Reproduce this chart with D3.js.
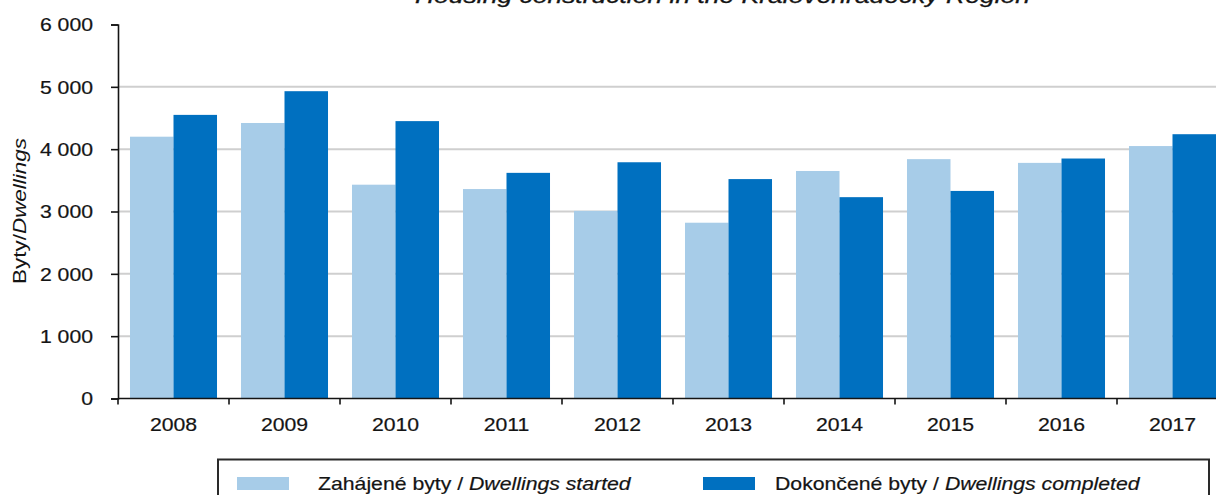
<!DOCTYPE html>
<html>
<head>
<meta charset="utf-8">
<script src="https://cdn.jsdelivr.net/npm/d3@7"></script>
<style>
  html, body { margin: 0; padding: 0; background: #fff; overflow: hidden; }
  svg { display: block; font-family: "Liberation Sans", Arial, sans-serif; }
</style>
</head>
<body>
<svg id="chart" width="1216" height="495"></svg>
<script>
// Housing construction, Královéhradecký Region
const years = ["2008", "2009", "2010", "2011", "2012", "2013", "2014", "2015", "2016", "2017"];
const started = [4200, 4420, 3430, 3360, 3010, 2820, 3650, 3840, 3780, 4050];
const completed = [4550, 4930, 4450, 3620, 3790, 3520, 3230, 3330, 3850, 4240];
const seriesKeys = ["started", "completed"];
const seriesLabels = [
  ["Zahájené byty / ", "Dwellings started"],
  ["Dokončené byty / ", "Dwellings completed"]
];
const yTicks = [0, 1000, 2000, 3000, 4000, 5000, 6000];

const colors = { started: "#a7cce8", completed: "#0070c0" };
const ink = "#141414";
const stretch = 1.18;

const rows = years.map((y, i) => ({ year: y, started: started[i], completed: completed[i] }));

const svg = d3.select("#chart");

const x0 = d3.scaleBand().domain(years).range([118, 1228]).paddingInner(0.216).paddingOuter(0.108);
const x1 = d3.scaleBand().domain(seriesKeys).range([0, x0.bandwidth()]);
const y = d3.scaleLinear().domain([0, 6000]).range([398.5, 24.5]);

const fmt = d3.formatLocale({ decimal: ",", thousands: "\u00a0", grouping: [3], currency: ["", ""] }).format(",d");

// horizontal gridlines
svg.append("g").selectAll("line")
  .data(yTicks.filter(t => t > 0 && t < 6000))
  .join("line")
  .attr("x1", 118).attr("x2", 1216)
  .attr("y1", d => y(d)).attr("y2", d => y(d))
  .attr("stroke", "#cfcfcf").attr("stroke-width", 2);

// bars
const groups = svg.append("g").selectAll("g")
  .data(rows)
  .join("g")
  .attr("transform", d => `translate(${x0(d.year)},0)`);

groups.selectAll("rect")
  .data(d => seriesKeys.map(k => ({ key: k, value: d[k] })))
  .join("rect")
  .attr("x", d => x1(d.key))
  .attr("width", x1.bandwidth())
  .attr("y", d => y(d.value))
  .attr("height", d => y(0) - y(d.value))
  .attr("fill", d => colors[d.key]);

// y axis
const yAxis = svg.append("g")
  .attr("transform", "translate(118,0)")
  .call(d3.axisLeft(y).tickValues(yTicks).tickSize(7).tickPadding(18).tickFormat(fmt));
yAxis.select(".domain").attr("stroke", ink).attr("stroke-width", 1.6);
yAxis.selectAll(".tick line").attr("stroke", ink).attr("stroke-width", 1.6);
yAxis.selectAll(".tick text")
  .attr("fill", ink).attr("font-size", 18)
  .attr("stroke", ink).attr("stroke-width", 0.2)
  .attr("font-family", "Liberation Sans, Arial, sans-serif")
  .each(function () {
    const t = d3.select(this);
    const xPos = +t.attr("x");
    t.attr("x", null).attr("dy", "0.35em")
      .attr("transform", `translate(${xPos},0) scale(${stretch},1)`);
  });

// x axis with ticks at category boundaries
svg.append("line")
  .attr("x1", 118).attr("x2", 1216)
  .attr("y1", y(0)).attr("y2", y(0))
  .attr("stroke", ink).attr("stroke-width", 1.6);

const boundaries = years.map(yr => x0(yr) - x0.step() * x0.paddingOuter());
svg.append("g").selectAll("line")
  .data(boundaries)
  .join("line")
  .attr("x1", d => d).attr("x2", d => d)
  .attr("y1", y(0)).attr("y2", y(0) + 6)
  .attr("stroke", ink).attr("stroke-width", 1.6);

svg.append("g").selectAll("text")
  .data(years)
  .join("text")
  .attr("transform", d => `translate(${x0(d) + x0.bandwidth() / 2},431) scale(${stretch},1)`)
  .attr("text-anchor", "middle")
  .attr("font-size", 18)
  .attr("fill", ink)
  .attr("stroke", ink).attr("stroke-width", 0.2)
  .text(d => d);

// y axis title
const yTitle = svg.append("text")
  .attr("transform", "translate(26,211) rotate(-90)")
  .attr("text-anchor", "middle")
  .attr("font-size", 18)
  .attr("textLength", 146).attr("lengthAdjust", "spacingAndGlyphs")
  .attr("fill", ink);
yTitle.append("tspan").text("Byty/");
yTitle.append("tspan").attr("font-style", "italic").text("Dwellings");

// chart title (second line of the heading; the first sits above the frame)
svg.append("text")
  .attr("x", 415).attr("y", 2.5)
  .attr("textLength", 615).attr("lengthAdjust", "spacingAndGlyphs")
  .attr("font-size", 21)
  .attr("font-style", "italic")
  .attr("fill", ink)
  .attr("stroke", ink).attr("stroke-width", 0.3)
  .text("Housing construction in the Královéhradecký Region");

// legend
svg.append("rect")
  .attr("x", 218).attr("y", 459.5)
  .attr("width", 991).attr("height", 80)
  .attr("fill", "none")
  .attr("stroke", "#2a2a2a").attr("stroke-width", 2);

const legendItems = [
  { key: "started", swatchX: 237, textX: 318 },
  { key: "completed", swatchX: 703, textX: 775 }
];
legendItems.forEach((item, i) => {
  svg.append("rect")
    .attr("x", item.swatchX).attr("y", 477)
    .attr("width", 52).attr("height", 13)
    .attr("fill", colors[item.key]);
  const t = svg.append("text")
    .attr("transform", `translate(${item.textX},490) scale(${stretch},1)`)
    .attr("font-size", 18)
    .attr("fill", ink)
    .attr("stroke", ink).attr("stroke-width", 0.2);
  t.append("tspan").text(seriesLabels[i][0]);
  t.append("tspan").attr("font-style", "italic").text(seriesLabels[i][1]);
});
</script>
</body>
</html>
